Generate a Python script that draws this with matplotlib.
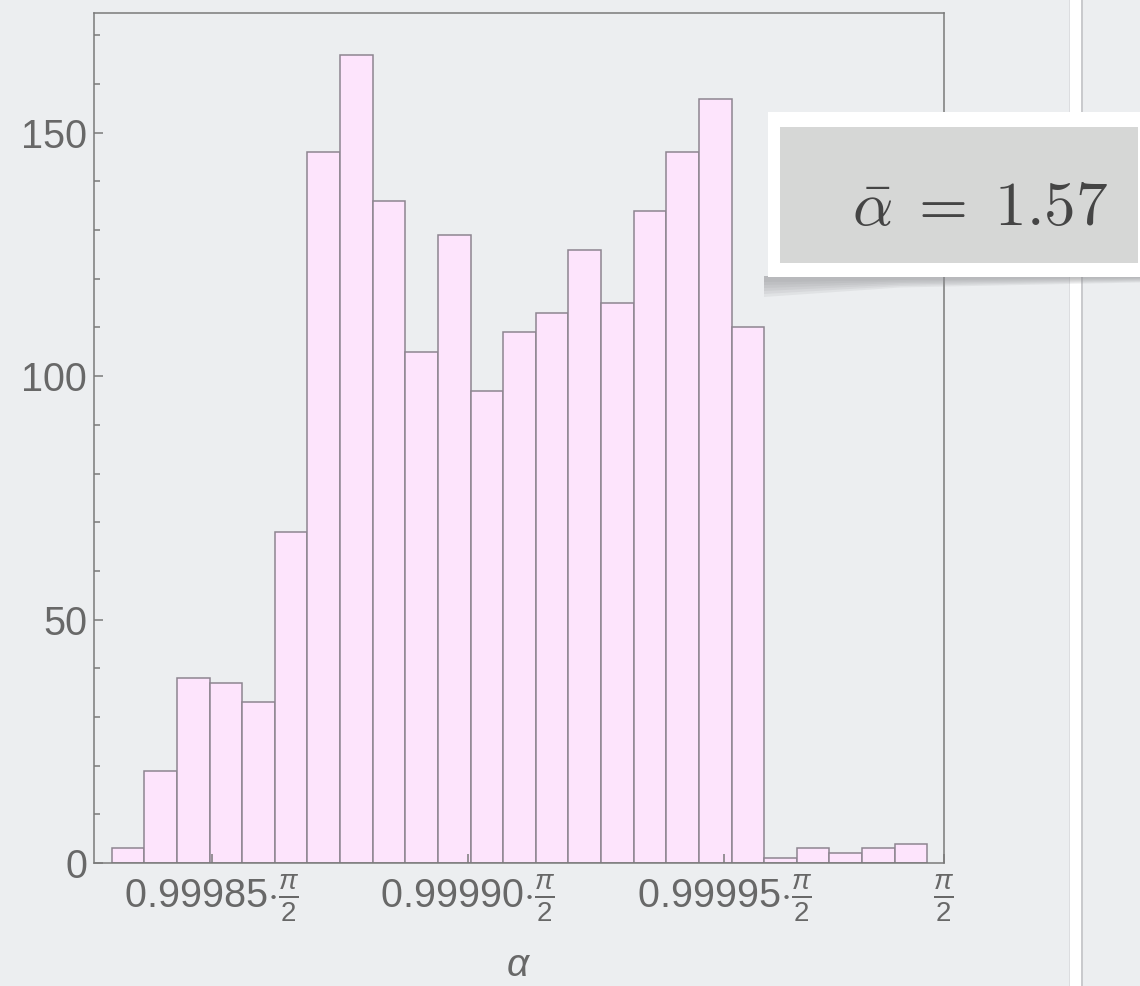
import numpy as np
import matplotlib
matplotlib.use("Agg")
import matplotlib.pyplot as plt
from matplotlib.patches import Rectangle, Polygon

# histogram counts, one per bin (bins are 1e-5 rad wide)
counts = [3, 19, 38, 37, 33, 68, 146, 166, 136, 105, 129, 97, 109,
          113, 126, 115, 134, 146, 157, 110, 1, 3, 2, 3, 4]
bin_start = 1.57053
bin_width = 1e-5

x_limits = (1.5705246, 1.5707851)
y_limits = (0, 174.6)

tick_vals = [0.99985 * np.pi / 2, 0.99990 * np.pi / 2, 0.99995 * np.pi / 2, x_limits[1]]
tick_labels = [r"$0.99985{\cdot}\frac{\pi}{2}$", r"$0.99990{\cdot}\frac{\pi}{2}$",
               r"$0.99995{\cdot}\frac{\pi}{2}$", r"$\frac{\pi}{2}$"]
mean_label = r"$\bar{\alpha}\;=\;1.57$"

plt.rcParams["font.family"] = ["Liberation Sans", "DejaVu Sans"]
plt.rcParams["mathtext.fontset"] = "custom"
plt.rcParams["mathtext.rm"] = "Liberation Sans"
plt.rcParams["mathtext.it"] = "Liberation Sans:italic"
plt.rcParams["mathtext.sf"] = "Liberation Sans"

bg = "#eceef0"
grey_txt = "#686868"
frame = "#7a7a7a"

fig = plt.figure(figsize=(11.4, 9.86), dpi=100, facecolor=bg)
ax = fig.add_axes([94 / 1140, 123 / 986, 850 / 1140, 850 / 986])
ax.set_facecolor(bg)

edges = bin_start + np.arange(len(counts)) * bin_width
ax.bar(edges, counts, width=bin_width, align="edge", color="#fde4fc",
       edgecolor="#8d8590", linewidth=1.1)

ax.set_xlim(*x_limits)
ax.set_ylim(*y_limits)

for s in ax.spines.values():
    s.set_color(frame)
    s.set_linewidth(1.1)

ax.set_yticks([0, 50, 100, 150])
ax.set_yticks(np.arange(0, 175, 10), minor=True)
ax.set_xticks(tick_vals)
ax.set_xticklabels(tick_labels)
ax.tick_params(axis="both", which="both", direction="in", color=frame,
               labelcolor=grey_txt, labelsize=28.5, width=1.1)
ax.tick_params(axis="y", which="major", length=6.5, pad=5)
ax.tick_params(axis="y", which="minor", length=4)
ax.tick_params(axis="x", which="major", length=6.5, pad=7)
ax.set_xlabel(r"$\alpha$", fontsize=28, color=grey_txt, labelpad=17)

# right-side decoration strip
fig.add_artist(Rectangle((1069 / 1140, 0), 1 / 1140, 1, transform=fig.transFigure,
                         color="#dcdde0", lw=0))
fig.add_artist(Rectangle((1070 / 1140, 0), 11 / 1140, 1, transform=fig.transFigure,
                         color="white", lw=0))
fig.add_artist(Rectangle((1081 / 1140, 0), 2 / 1140, 1, transform=fig.transFigure,
                         color="#c9cacd", lw=0))

# soft shadow under the mean box
for k in range(6):
    d = 3 * k
    fig.add_artist(Polygon([(764 / 1140, 1 - 276 / 986), (1140 / 1140, 1 - 276 / 986),
                            (1140 / 1140, 1 - (278 + d * 0.3) / 986),
                            (900 / 1140, 1 - (280 + d * 0.5) / 986),
                            (764 / 1140, 1 - (282 + d) / 986)],
                           closed=True, transform=fig.transFigure, color="#8e8f92",
                           alpha=0.12, lw=0))
fig.add_artist(Rectangle((768 / 1140, 1 - 277 / 986), 380 / 1140, 165 / 986,
                         transform=fig.transFigure, color="white", lw=0))
fig.add_artist(Rectangle((780 / 1140, 1 - 263 / 986), 358 / 1140, 136 / 986,
                         transform=fig.transFigure, color="#d6d7d6", lw=0))
fig.text(980 / 1140, 1 - 209 / 986, mean_label, fontsize=45.5, color="#454545",
         ha="center", va="center", math_fontfamily="cm")

fig.savefig("out.png", dpi=100, facecolor=bg)
